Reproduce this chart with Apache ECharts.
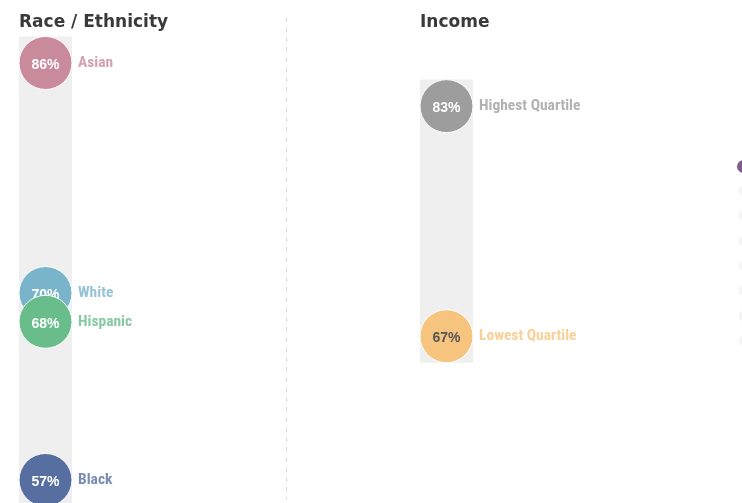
<!DOCTYPE html>
<html>
<head>
<meta charset="utf-8">
<script src="https://cdn.jsdelivr.net/npm/echarts@6/dist/echarts.min.js"></script>
<style>
  html, body { margin: 0; padding: 0; background: #fff; }
  #chart { width: 742px; height: 503px; }
</style>
</head>
<body>
<div id="chart"></div>
<script>
// Race / Ethnicity panel
const raceNames = ['Asian', 'White', 'Hispanic', 'Black'];
const raceValues = [86, 70, 68, 57];
const raceColors = ['#c98a9b', '#7ab4ca', '#69bd8b', '#566fa0'];

// Income panel
const incomeNames = ['Highest Quartile', 'Lowest Quartile'];
const incomeValues = [83, 67];
const incomeColors = ['#9d9d9d', '#f6c47e'];
const incomeTextColors = ['#fff', '#555'];

// edge of the next panel, cut off at the right
const edgeValues = [78.8, 77.1, 75.4, 73.6, 71.9, 70.2, 68.4, 66.7];
const edgeColors = ['#5f3672', '#f3f3f3', '#f3f3f3', '#f3f3f3', '#f3f3f3', '#f3f3f3', '#f3f3f3', '#f3f3f3'];
const edgeSizes = [13, 10, 10, 10, 10, 10, 10, 10];

const panelTitles = ['Race / Ethnicity', 'Income'];

const Y_MIN = 55.4;
const Y_MAX = 90.38;
const R = 26.5;

const chart = echarts.init(document.getElementById('chart'), null, { renderer: 'canvas' });

const rangeBar = (gridIndex, values) => ({
  type: 'custom',
  xAxisIndex: gridIndex,
  yAxisIndex: gridIndex,
  z: 1,
  silent: true,
  data: [[0, Math.min(...values), Math.max(...values)]],
  renderItem: (params, api) => {
    const top = api.coord([api.value(0), api.value(2)]);
    const bottom = api.coord([api.value(0), api.value(1)]);
    const w = api.size([1, 0])[0];
    return {
      type: 'rect',
      shape: { x: top[0] - w / 2, y: top[1] - R, width: w, height: bottom[1] - top[1] + 2 * R },
      style: { fill: '#efefef' }
    };
  }
});

const dotSeries = (gridIndex, names, values, colors, textColors) =>
  names.map((name, i) => ({
    type: 'scatter',
    name,
    xAxisIndex: gridIndex,
    yAxisIndex: gridIndex,
    z: 2 + i,
    symbol: 'circle',
    symbolSize: 2 * R,
    silent: true,
    itemStyle: { color: colors[i], borderColor: '#fff', borderWidth: 1, opacity: 1 },
    label: {
      show: true,
      position: 'inside',
      offset: [0, 2],
      color: textColors ? textColors[i] : '#fff',
      fontFamily: 'Liberation Sans, Arial, sans-serif',
      fontWeight: 'bold',
      fontSize: 14,
      formatter: values[i] + '%'
    },
    data: [[0, values[i]]]
  }));

const nameSeries = (gridIndex, names, values, colors) => ({
  type: 'scatter',
  xAxisIndex: gridIndex,
  yAxisIndex: gridIndex,
  z: 10,
  symbolSize: 2 * R,
  silent: true,
  itemStyle: { color: 'rgba(0,0,0,0)' },
  label: {
    show: true,
    position: 'right',
    distance: 6,
    padding: [7, 0, 0, 0],
    fontFamily: 'Roboto Condensed, Liberation Sans Narrow, Arial Narrow, Liberation Sans, sans-serif',
    fontWeight: 'bold',
    fontSize: 15.5,
    formatter: (p) => names[p.dataIndex]
  },
  labelLayout: { hideOverlap: false },
  data: values.map((v, i) => ({ value: [0, v], label: { color: colors[i] } }))
});

const grids = [
  { left: 19, width: 53, top: 0, height: 503 },
  { left: 420, width: 53, top: 0, height: 503 },
  { left: 733, right: -11, top: 0, height: 503 }
];

const option = {
  animation: false,
  backgroundColor: '#fff',
  title: panelTitles.map((t, i) => ({
    text: t,
    left: grids[i].left,
    top: 14,
    padding: 0,
    textStyle: {
      fontFamily: 'DejaVu Sans, sans-serif',
      fontWeight: 'bold',
      fontSize: 17,
      color: '#3a3a3a'
    }
  })),
  grid: grids,
  xAxis: grids.map((g, i) => ({
    type: 'category',
    gridIndex: i,
    data: [''],
    show: false
  })),
  yAxis: grids.map((g, i) => ({
    type: 'value',
    gridIndex: i,
    min: Y_MIN,
    max: Y_MAX,
    show: false
  })),
  graphic: [{
    type: 'line',
    shape: { x1: 286.5, y1: 17, x2: 286.5, y2: 500 },
    style: { stroke: '#dcdcdc', lineWidth: 1, lineDash: [5, 5] },
    silent: true
  }],
  series: [
    rangeBar(0, raceValues),
    ...dotSeries(0, raceNames, raceValues, raceColors),
    nameSeries(0, raceNames, raceValues, raceColors),
    rangeBar(1, incomeValues),
    ...dotSeries(1, incomeNames, incomeValues, incomeColors, incomeTextColors),
    nameSeries(1, incomeNames, incomeValues, incomeColors),
    {
      type: 'scatter',
      xAxisIndex: 2,
      yAxisIndex: 2,
      silent: true,
      symbolOffset: [6, 0],
      data: edgeValues.map((v, i) => ({
        value: [0, v],
        symbolSize: edgeSizes[i],
        itemStyle: { color: edgeColors[i] }
      }))
    }
  ]
};

chart.setOption(option);
</script>
</body>
</html>
